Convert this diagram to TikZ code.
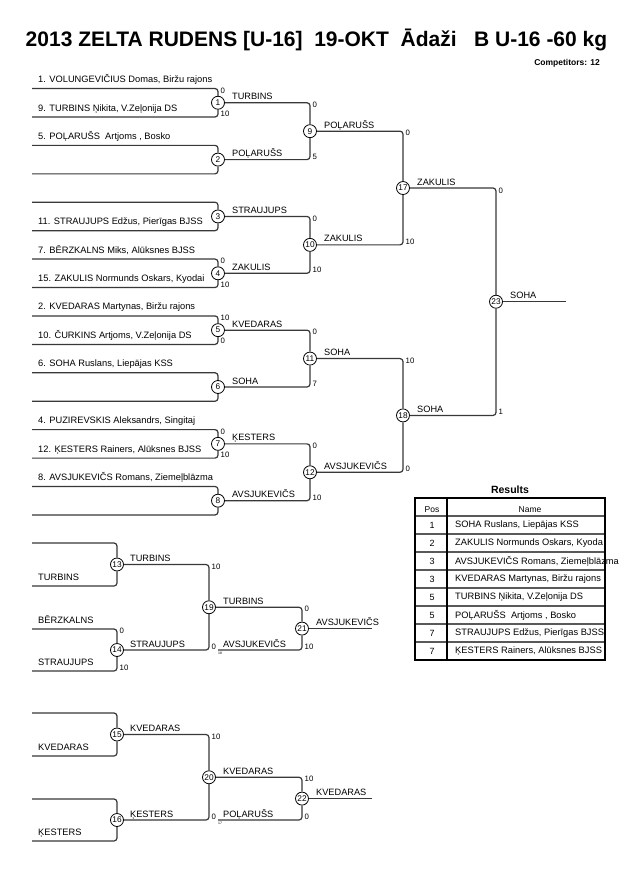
\documentclass[tikz,border=0pt]{standalone}
\usepackage{fontspec}
\setmainfont{Liberation Sans}
\begin{document}
\begin{tikzpicture}[x=1pt,y=-1pt,
  br/.style={draw=black!78, line width=1.2pt, rounded corners=3pt},
  mnum/.style={circle, draw=black, line width=0.8pt, fill=white, minimum size=13pt, inner sep=0pt, font=\fontsize{8.3}{8}\selectfont},
  win/.style={anchor=base west, inner sep=0pt, font=\fontsize{9.2}{10}\selectfont},
  comp/.style={anchor=base west, inner sep=0pt, font=\fontsize{9.3}{10}\selectfont},
  sct/.style={anchor=north west, inner sep=0pt, font=\fontsize{7.8}{8}\selectfont},
  scb/.style={anchor=base west, inner sep=0pt, font=\fontsize{7.8}{8}\selectfont},
  tiny/.style={anchor=base west, inner sep=0pt, font=\fontsize{3.5}{4}\selectfont},
  tline/.style={draw=black!65, line width=1.4pt},
  tcell/.style={anchor=west, inner sep=0pt, font=\fontsize{9.3}{10}\selectfont},
  tpos/.style={anchor=center, inner sep=0pt, font=\fontsize{9}{10}\selectfont},
]
\useasboundingbox[fill=white] (0,0) rectangle (630,891);

% titles
\node[font=\fontsize{21}{24}\bfseries, inner sep=0pt] (title) at (316.5,40) {2013 ZELTA RUDENS [U-16]\ \ 19-OKT\ \ Ādaži\ \ \ B U-16 -60 kg};
\node[font=\fontsize{8.5}{9}\bfseries, anchor=east, inner sep=0pt] (ncomp) at (600,63) {Competitors: 12};

% ---------- main bracket: first round ----------
\node[mnum] (m1) at (218,102.75) {1};
\node[mnum] (m2) at (218,159.6) {2};
\node[mnum] (m3) at (218,216.45) {3};
\node[mnum] (m4) at (218,273.3) {4};
\node[mnum] (m5) at (218,330.15) {5};
\node[mnum] (m6) at (218,387) {6};
\node[mnum] (m7) at (218,443.85) {7};
\node[mnum] (m8) at (218,500.7) {8};

\coordinate (t1) at (32,88.5);   \coordinate (b1) at (32,117);
\coordinate (t2) at (32,145.35); \coordinate (b2) at (32,173.85);
\coordinate (t3) at (32,202.2);  \coordinate (b3) at (32,230.7);
\coordinate (t4) at (32,259.05); \coordinate (b4) at (32,287.55);
\coordinate (t5) at (32,315.9);  \coordinate (b5) at (32,344.4);
\coordinate (t6) at (32,372.75); \coordinate (b6) at (32,401.25);
\coordinate (t7) at (32,429.6);  \coordinate (b7) at (32,458.1);
\coordinate (t8) at (32,486.45); \coordinate (b8) at (32,514.95);

\foreach \k in {1,...,8}{
  \draw[br] (t\k) -| (m\k.north);
  \draw[br] (b\k) -| (m\k.south);
}

% competitor names (clipped)
\begin{scope}
\clip (0,60) rectangle (213.5,530);
\node[comp] (n1) at (38,82.5) {1. VOLUNGEVIČIUS Domas, Biržu rajons};
\node[comp] (n9) at (38,111) {9. TURBINS Ņikita, V.Zeļonija DS};
\node[comp] (n5) at (38,139.35) {5. POĻARUŠS\ \ Artjoms , Bosko};
\node[comp] (n11) at (38,224.7) {11. STRAUJUPS Edžus, Pierīgas BJSS};
\node[comp] (n7) at (38,253.05) {7. BĒRZKALNS Miks, Alūksnes BJSS};
\node[comp] (n15) at (38,281.55) {15. ZAKULIS Normunds Oskars, Kyodai};
\node[comp] (n2) at (38,309.9) {2. KVEDARAS Martynas, Biržu rajons};
\node[comp] (n10) at (38,338.4) {10. ČURKINS Artjoms, V.Zeļonija DS};
\node[comp] (n6) at (38,366.75) {6. SOHA Ruslans, Liepājas KSS};
\node[comp] (n4) at (38,423.6) {4. PUZIREVSKIS Aleksandrs, Singitaj};
\node[comp] (n12) at (38,452.1) {12. ĶESTERS Rainers, Alūksnes BJSS};
\node[comp] (n8) at (38,480.45) {8. AVSJUKEVIČS Romans, Ziemeļblāzma};
\end{scope}

% first round scores
\node[sct] (s1a) at (220.5,87.5) {0};   \node[scb] (s1b) at (220.5,116.5) {10};
\node[sct] (s4a) at (220.5,258.05) {0}; \node[scb] (s4b) at (220.5,287.05) {10};
\node[sct] (s5a) at (220.5,314.9) {10}; \node[scb] (s5b) at (220.5,343.9) {0};
\node[sct] (s7a) at (220.5,428.6) {0};  \node[scb] (s7b) at (220.5,457.6) {10};

% ---------- second round ----------
\node[mnum] (m9) at (310,131.175) {9};
\node[mnum] (m10) at (310,244.875) {10};
\node[mnum] (m11) at (310,358.575) {11};
\node[mnum] (m12) at (310,472.275) {12};
\draw[br] (m1.east) -| (m9.north);  \draw[br] (m2.east) -| (m9.south);
\draw[br] (m3.east) -| (m10.north); \draw[br] (m4.east) -| (m10.south);
\draw[br] (m5.east) -| (m11.north); \draw[br] (m6.east) -| (m11.south);
\draw[br] (m7.east) -| (m12.north); \draw[br] (m8.east) -| (m12.south);

\node[win] (w1) at (232,99.75) {TURBINS};
\node[win] (w2) at (232,156.6) {POĻARUŠS};
\node[win] (w3) at (232,213.45) {STRAUJUPS};
\node[win] (w4) at (232,270.3) {ZAKULIS};
\node[win] (w5) at (232,327.15) {KVEDARAS};
\node[win] (w6) at (232,384) {SOHA};
\node[win] (w7) at (232,440.85) {ĶESTERS};
\node[win] (w8) at (232,497.7) {AVSJUKEVIČS};

\node[sct] (s9a) at (312.5,101.75) {0};   \node[scb] (s9b) at (312.5,159.1) {5};
\node[sct] (s10a) at (312.5,215.45) {0};  \node[scb] (s10b) at (312.5,272.8) {10};
\node[sct] (s11a) at (312.5,329.15) {0};  \node[scb] (s11b) at (312.5,386.5) {7};
\node[sct] (s12a) at (312.5,442.85) {0};  \node[scb] (s12b) at (312.5,500.2) {10};

% ---------- semifinals ----------
\node[mnum] (m17) at (403,188.025) {17};
\node[mnum] (m18) at (403,415.425) {18};
\draw[br] (m9.east) -| (m17.north);  \draw[br] (m10.east) -| (m17.south);
\draw[br] (m11.east) -| (m18.north); \draw[br] (m12.east) -| (m18.south);

\node[win] (w9) at (324,128.2) {POĻARUŠS};
\node[win] (w10) at (324,241.9) {ZAKULIS};
\node[win] (w11) at (324,355.6) {SOHA};
\node[win] (w12) at (324,469.3) {AVSJUKEVIČS};

\node[sct] (s17a) at (405.5,130.2) {0};   \node[scb] (s17b) at (405.5,244.4) {10};
\node[sct] (s18a) at (405.5,357.6) {10};  \node[scb] (s18b) at (405.5,471.8) {0};

% ---------- final ----------
\node[mnum] (m23) at (496,301.725) {23};
\coordinate (e23) at (566,301.725);
\draw[br] (m17.east) -| (m23.north); \draw[br] (m18.east) -| (m23.south);
\draw[br] (m23.east) -- (e23);

\node[win] (w17) at (417,185) {ZAKULIS};
\node[win] (w18) at (417,412.4) {SOHA};
\node[win] (w23) at (510,298.7) {SOHA};
\node[sct] (s23a) at (498.5,187.5) {0};  \node[scb] (s23b) at (498.5,414.9) {1};

% ---------- repechage 1 ----------
\node[mnum] (m13) at (117,564.5) {13};
\node[mnum] (m14) at (117,650) {14};
\node[mnum] (m19) at (209,607.25) {19};
\node[mnum] (m21) at (302,628.6) {21};
\coordinate (t13) at (32,543); \coordinate (b13) at (32,586);
\coordinate (t14) at (32,629); \coordinate (b14) at (32,671);
\coordinate (c21b) at (218,650);
\coordinate (e21) at (372,628.6);
\draw[br] (t13) -| (m13.north); \draw[br] (b13) -| (m13.south);
\draw[br] (t14) -| (m14.north); \draw[br] (b14) -| (m14.south);
\draw[br] (m13.east) -| (m19.north); \draw[br] (m14.east) -| (m19.south);
\draw[br] (m19.east) -| (m21.north); \draw[br] (c21b) -| (m21.south);
\draw[br] (m21.east) -- (e21);

\node[comp] (r13b) at (38,580.5) {TURBINS};
\node[comp] (r14a) at (38,623.5) {BĒRZKALNS};
\node[comp] (r14b) at (38,665.5) {STRAUJUPS};
\node[win] (w13) at (130,561.5) {TURBINS};
\node[win] (w14) at (130,647) {STRAUJUPS};
\node[win] (w19) at (223,604.25) {TURBINS};
\node[win] (l21b) at (223,647) {AVSJUKEVIČS};
\node[win] (w21) at (316,625.6) {AVSJUKEVIČS};
\node[sct] (s14a) at (119.5,628) {0};   \node[scb] (s14b) at (119.5,670.5) {10};
\node[sct] (s19a) at (211.5,563.5) {10}; \node[scb] (s19b) at (211.5,649.5) {0};
\node[tiny] (x19) at (218,654) {18};
\node[sct] (s21a) at (304.5,606.25) {0}; \node[scb] (s21b) at (304.5,649.5) {10};

% ---------- repechage 2 ----------
\node[mnum] (m15) at (117,734.5) {15};
\node[mnum] (m16) at (117,820) {16};
\node[mnum] (m20) at (209,777.25) {20};
\node[mnum] (m22) at (302,798.6) {22};
\coordinate (t15) at (32,713); \coordinate (b15) at (32,756);
\coordinate (t16) at (32,799); \coordinate (b16) at (32,841);
\coordinate (c22b) at (218,820);
\coordinate (e22) at (372,798.6);
\draw[br] (t15) -| (m15.north); \draw[br] (b15) -| (m15.south);
\draw[br] (t16) -| (m16.north); \draw[br] (b16) -| (m16.south);
\draw[br] (m15.east) -| (m20.north); \draw[br] (m16.east) -| (m20.south);
\draw[br] (m20.east) -| (m22.north); \draw[br] (c22b) -| (m22.south);
\draw[br] (m22.east) -- (e22);

\node[comp] (r15b) at (38,750.5) {KVEDARAS};
\node[comp] (r16b) at (38,835.5) {ĶESTERS};
\node[win] (w15) at (130,731.5) {KVEDARAS};
\node[win] (w16) at (130,817) {ĶESTERS};
\node[win] (w20) at (223,774.25) {KVEDARAS};
\node[win] (l22b) at (223,817) {POĻARUŠS};
\node[win] (w22) at (316,795.6) {KVEDARAS};
\node[sct] (s20a) at (211.5,733.5) {10}; \node[scb] (s20b) at (211.5,819.5) {0};
\node[tiny] (x20) at (218,824) {17};
\node[sct] (s22a) at (304.5,776.25) {10}; \node[scb] (s22b) at (304.5,819.5) {0};

% ---------- results table ----------
\node[font=\fontsize{10.5}{11}\bfseries, inner sep=0pt] (restitle) at (510,490) {Results};
\node[tpos, font=\fontsize{8.5}{9}\selectfont] (hpos) at (432,509.5) {Pos};
\node[tpos, font=\fontsize{8.5}{9}\selectfont] (hname) at (530,509.5) {Name};
\foreach \y in {516,534,552,570,588,606,624,642}{
  \draw[tline] (415,\y) -- (605,\y);
}
\draw[draw=black, line width=1.2pt] (447,498) -- (447,660);
\draw[draw=black, line width=1.8pt] (415,498) rectangle (605,660);
\node[tpos] (p1) at (432,525) {1}; \node[tcell] (r1) at (455,525) {SOHA Ruslans, Liepājas KSS};
\node[tpos] (p2) at (432,543) {2}; \node[tcell] (r2) at (455,543) {ZAKULIS Normunds Oskars, Kyoda};
\node[tpos] (p3) at (432,561) {3}; \node[tcell] (r3) at (455,561) {AVSJUKEVIČS Romans, Ziemeļblāzma};
\node[tpos] (p4) at (432,579) {3}; \node[tcell] (r4) at (455,579) {KVEDARAS Martynas, Biržu rajons};
\node[tpos] (p5) at (432,597) {5}; \node[tcell] (r5) at (455,597) {TURBINS Ņikita, V.Zeļonija DS};
\node[tpos] (p6) at (432,615) {5}; \node[tcell] (r6) at (455,615) {POĻARUŠS\ \ Artjoms , Bosko};
\node[tpos] (p7) at (432,633) {7}; \node[tcell] (r7) at (455,633) {STRAUJUPS Edžus, Pierīgas BJSS};
\node[tpos] (p8) at (432,651) {7}; \node[tcell] (r8) at (455,651) {ĶESTERS Rainers, Alūksnes BJSS};
\end{tikzpicture}
\end{document}
